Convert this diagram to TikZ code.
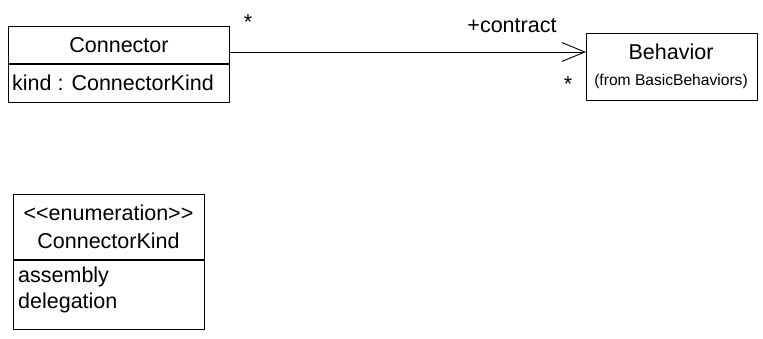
\documentclass[tikz,border=0pt]{standalone}
\usepackage{fontspec}
\setmainfont{Liberation Sans}
\usetikzlibrary{arrows.meta}
\begin{document}
\begin{tikzpicture}[x=1pt,y=-1pt,
  box/.style={draw, line width=0.9pt, inner sep=0pt, anchor=north west},
  lbl/.style={inner sep=0pt, font=\fontsize{21.5}{26}\selectfont},
  small/.style={inner sep=0pt, font=\fontsize{15.6}{18}\selectfont},
  assoc/.style={line width=0.9pt, -{Straight Barb[length=23pt,width=19pt,line width=0.9pt]}}]
\useasboundingbox (0,0) rectangle (763,339);
% Connector class
\node[box, minimum width=221pt, minimum height=37pt] (conn) at (8,26) {};
\node[box, minimum width=221pt, minimum height=38pt] (connattr) at (conn.south west) {};
\node[lbl] (conntitle) at (119,45) {Connector};
\node[lbl, anchor=west] (connkind) at (12,82.5) {kind : ConnectorKind};
% Behavior class
\node[box, minimum width=171pt, minimum height=67pt] (beh) at (586,33) {};
\node[lbl] (behname) at (671,52) {Behavior};
\node[small] (behfrom) at (671,81) {(from BasicBehaviors)};
% Enumeration
\node[box, minimum width=191pt, minimum height=65pt] (enum) at (13,194) {};
\node[box, minimum width=191pt, minimum height=69pt] (enumlit) at (enum.south west) {};
\node[lbl] (stereo) at (108.5,213) {<\kern0pt<enumeration>\kern0pt>};
\node[lbl] (enumname) at (108.5,241) {ConnectorKind};
\node[lbl, anchor=west] (lit1) at (18,277) {assembly};
\node[lbl, anchor=west] (lit2) at (18,303) {delegation};
% Association
\coordinate (startpt) at (conn.east |- behname);
\coordinate (endpt) at (beh.west |- behname);
\draw[assoc] (startpt) -- (endpt);
\node[lbl] (mult1) at (248,22) {*};
\node[lbl] (role) at (512,26) {+contract};
\node[lbl] (mult2) at (568,84) {*};
\end{tikzpicture}
\end{document}
